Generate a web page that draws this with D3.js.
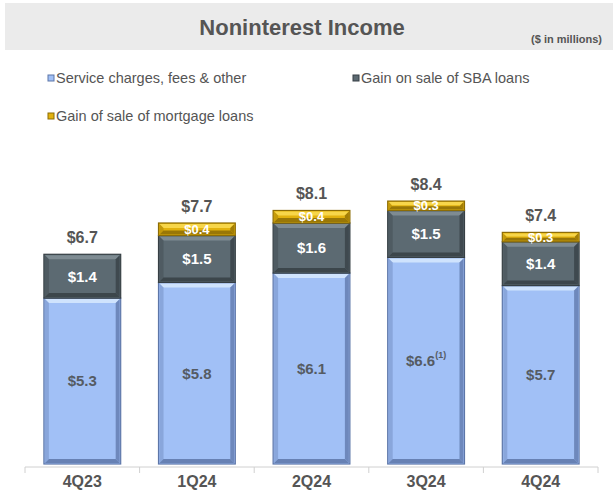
<!DOCTYPE html>
<html>
<head>
<meta charset="utf-8">
<script src="https://cdn.jsdelivr.net/npm/d3@7"></script>
<style>
  html, body { margin: 0; padding: 0; background: #ffffff; }
  svg { display: block; font-family: "Liberation Sans", Arial, sans-serif; }
</style>
</head>
<body>
<svg id="chart" width="613" height="491"></svg>
<script>
// Quarterly noninterest income, $ in millions
const quarters = ["4Q23", "1Q24", "2Q24", "3Q24", "4Q24"];
const serviceCharges = [5.3, 5.8, 6.1, 6.6, 5.7];
const sbaGains = [1.4, 1.5, 1.6, 1.5, 1.4];
const mortgageGains = [0, 0.4, 0.4, 0.3, 0.3];
const totals = [6.7, 7.7, 8.1, 8.4, 7.4];
const footnotes = ["", "", "", "(1)", ""];

const seriesNames = ["Service charges, fees & other", "Gain on sale of SBA loans", "Gain of sale of mortgage loans"];

const styles = {
  service:  { fill: "#a1c0f6", light: "#d2e5fd", dark: "#5d76a8", label: "#555b63" },
  sba:      { fill: "#5c6a72", light: "#808d94", dark: "#363f44", label: "#ffffff" },
  mortgage: { fill: "#e2b20e", light: "#f8d84e", dark: "#8c6c05", label: "#ffffff" }
};
const keys = ["service", "sba", "mortgage"];

const rows = quarters.map((q, i) => ({
  quarter: q,
  service: serviceCharges[i],
  sba: sbaGains[i],
  mortgage: mortgageGains[i],
  total: totals[i],
  note: footnotes[i]
}));

const svg = d3.select("#chart");

// Header band
svg.append("rect").attr("x", 5).attr("y", 3).attr("width", 608).attr("height", 47).attr("fill", "#ebebeb");
svg.append("text").attr("x", 302).attr("y", 35).attr("text-anchor", "middle")
  .attr("font-size", 22).attr("font-weight", "bold").attr("fill", "#555555")
  .text("Noninterest Income");
svg.append("text").attr("x", 602).attr("y", 43).attr("text-anchor", "end")
  .attr("font-size", 11).attr("font-weight", "bold").attr("fill", "#555555")
  .text("($ in millions)");

// Legend
const legendPos = [[48, 79], [353, 79], [48, 117]];
keys.forEach((k, i) => {
  const [lx, ly] = legendPos[i];
  const g = svg.append("g").attr("transform", `translate(${lx},${ly})`);
  g.append("rect").attr("x", 0).attr("y", -4).attr("width", 6).attr("height", 6)
    .attr("fill", styles[k].fill).attr("stroke", styles[k].dark).attr("stroke-width", 1);
  g.append("text").attr("x", 8).attr("y", 4).attr("font-size", 14.5).attr("fill", "#555555")
    .text(seriesNames[i]);
});

// Scales
const x = d3.scaleBand().domain(quarters).range([25, 598]).paddingInner(0.33).paddingOuter(0.165);
const y = d3.scaleLinear().domain([0, 10]).range([464, 151]);

const stack = d3.stack().keys(keys)(rows);

// Axis baseline and category ticks
const axisY = 467;
svg.append("line").attr("x1", 25).attr("x2", 598).attr("y1", axisY).attr("y2", axisY)
  .attr("stroke", "#d0d0d0").attr("stroke-width", 1);
const step = x.step();
d3.range(quarters.length + 1).forEach(i => {
  const tx = 25 + i * step;
  svg.append("line").attr("x1", tx).attr("x2", tx).attr("y1", axisY).attr("y2", axisY + 6)
    .attr("stroke", "#d0d0d0").attr("stroke-width", 1);
});
svg.selectAll("text.cat").data(quarters).join("text").attr("class", "cat")
  .attr("x", d => x(d) + x.bandwidth() / 2).attr("y", 487)
  .attr("text-anchor", "middle").attr("font-size", 16).attr("font-weight", "bold")
  .attr("fill", "#555555").text(d => d);

// Bevelled segments
const bw = x.bandwidth();
const bev = 4;
stack.forEach(layer => {
  const st = styles[layer.key];
  layer.forEach(seg => {
    const v = seg[1] - seg[0];
    if (v <= 0) return;
    const x0 = x(seg.data.quarter), x1 = x0 + bw;
    const yt = y(seg[1]), yb = y(seg[0]);
    const h = yb - yt;
    const b = Math.min(bev, h / 3);
    const g = svg.append("g");
    // body with outline
    g.append("rect").attr("x", x0).attr("y", yt).attr("width", bw).attr("height", h)
      .attr("fill", st.fill).attr("stroke", st.dark).attr("stroke-width", 1.2);
    // top highlight
    g.append("path").attr("d", `M${x0 + 1},${yt + 1} L${x1 - 1},${yt + 1} L${x1 - 1 - b},${yt + 1 + b} L${x0 + 1 + b},${yt + 1 + b} Z`)
      .attr("fill", st.light).attr("opacity", 0.95);
    // right shade
    g.append("path").attr("d", `M${x1 - 1},${yt + 1} L${x1 - 1},${yb - 1} L${x1 - 1 - b},${yb - 1 - b} L${x1 - 1 - b},${yt + 1 + b} Z`)
      .attr("fill", st.dark).attr("opacity", 0.75);
    // bottom shade
    g.append("path").attr("d", `M${x0 + 1},${yb - 1} L${x1 - 1},${yb - 1} L${x1 - 1 - b},${yb - 1 - b} L${x0 + 1 + b},${yb - 1 - b} Z`)
      .attr("fill", st.dark).attr("opacity", 0.85);
    // left shade
    g.append("path").attr("d", `M${x0 + 1},${yt + 1} L${x0 + 1 + b},${yt + 1 + b} L${x0 + 1 + b},${yb - 1 - b} L${x0 + 1},${yb - 1} Z`)
      .attr("fill", st.dark).attr("opacity", 0.35);
  });
});

// Segment value labels
stack.forEach(layer => {
  const st = styles[layer.key];
  layer.forEach(seg => {
    const v = seg[1] - seg[0];
    if (v <= 0) return;
    const cx = x(seg.data.quarter) + bw / 2;
    const cy = (y(seg[0]) + y(seg[1])) / 2;
    const fs = layer.key === "mortgage" ? 13 : 15;
    const t = svg.append("text").attr("x", cx).attr("y", cy + fs * 0.36)
      .attr("text-anchor", "middle").attr("font-size", fs).attr("font-weight", "bold")
      .attr("fill", st.label).text("$" + d3.format(".1f")(v));
    if (layer.key === "service" && seg.data.note) {
      t.append("tspan").attr("font-size", 9).attr("dy", -8).text(seg.data.note);
    }
  });
});

// Total labels
svg.selectAll("text.total").data(rows).join("text").attr("class", "total")
  .attr("x", d => x(d.quarter) + bw / 2).attr("y", d => y(d.total) - 11)
  .attr("text-anchor", "middle").attr("font-size", 16).attr("font-weight", "bold")
  .attr("fill", "#555555").text(d => "$" + d3.format(".1f")(d.total));
</script>
</body>
</html>
